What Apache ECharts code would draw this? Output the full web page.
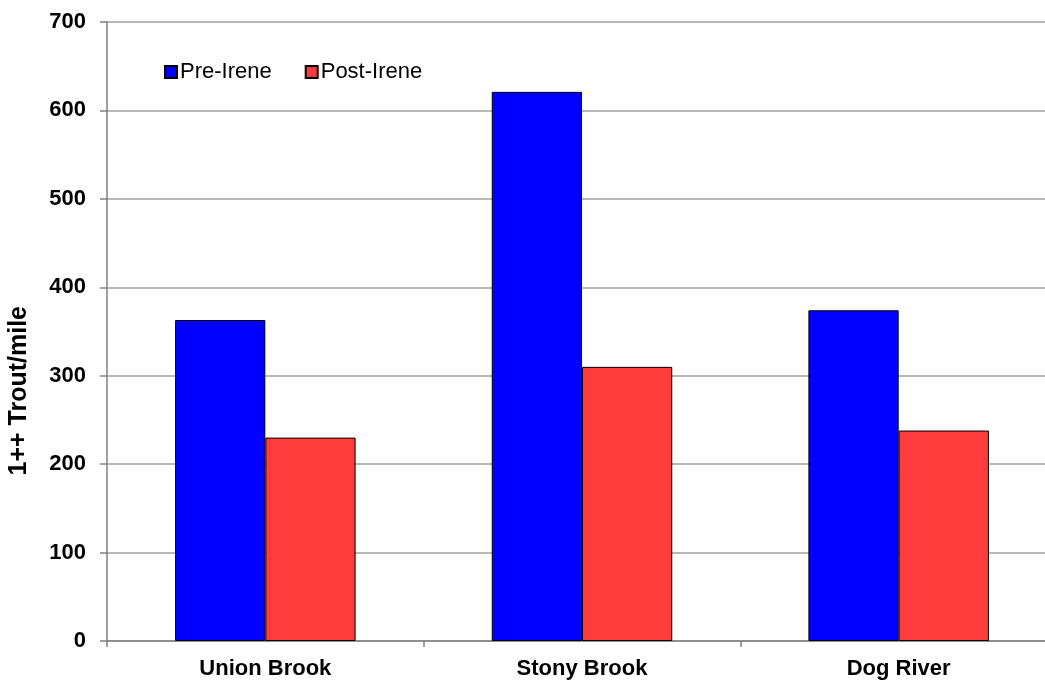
<!DOCTYPE html>
<html>
<head>
<meta charset="utf-8">
<script src="https://cdn.jsdelivr.net/npm/echarts@6/dist/echarts.min.js"></script>
<style>
html, body { margin: 0; padding: 0; background: #fff; }
#chart { width: 1045px; height: 683px; }
</style>
</head>
<body>
<div id="chart"></div>
<script>
const categories = ['Union Brook', 'Stony Brook', 'Dog River']
const preIrene = [363, 621, 374]
const postIrene = [230, 310, 238]
const yTicks = { min: 0, max: 700, interval: 100 }

const font = '"Liberation Sans", Arial, sans-serif'
const chart = echarts.init(document.getElementById('chart'))

const option = {
    animation: false,
    textStyle: { fontFamily: font },
    grid: {
        left: 107,
        top: 22,
        bottom: 42,
        right: -12,
        outerBoundsMode: 'none'
    },
    legend: {
        left: 159,
        top: 56,
        icon: 'rect',
        itemWidth: 12,
        itemHeight: 12,
        itemGap: 33,
        textStyle: { fontSize: 22, color: '#000', fontFamily: font, padding: [0, 0, 0, -2] },
        data: ['Pre-Irene', 'Post-Irene']
    },
    graphic: [{
        type: 'text',
        left: 7,
        top: 306,
        rotation: Math.PI / 2,
        style: {
            text: '1++ Trout/mile',
            font: 'bold 25px ' + font,
            fill: '#000'
        }
    }],
    xAxis: {
        type: 'category',
        data: categories,
        axisLine: { lineStyle: { color: '#808080', width: 1.5 } },
        axisTick: { show: true, length: 6, lineStyle: { color: '#808080', width: 1.5 } },
        axisLabel: { fontSize: 22, fontWeight: 'bold', color: '#000', margin: 17, fontFamily: font }
    },
    yAxis: {
        type: 'value',
        min: yTicks.min,
        max: yTicks.max,
        interval: yTicks.interval,
        axisLine: { show: true, lineStyle: { color: '#808080', width: 1.5 } },
        axisTick: { show: true, length: 7, lineStyle: { color: '#808080', width: 1.5 } },
        axisLabel: { fontSize: 22, fontWeight: 'bold', color: '#000', margin: 21, fontFamily: font },
        splitLine: { lineStyle: { color: '#a0a0a0', width: 1.5 } }
    },
    series: [
        {
            name: 'Pre-Irene',
            type: 'bar',
            data: preIrene,
            barGap: '0%',
            barCategoryGap: '43%',
            itemStyle: { color: '#0000ff', borderColor: '#000', borderWidth: 1 }
        },
        {
            name: 'Post-Irene',
            type: 'bar',
            data: postIrene,
            itemStyle: { color: '#ff3c3c', borderColor: '#000', borderWidth: 1 }
        }
    ]
}

chart.setOption(option)
</script>
</body>
</html>
